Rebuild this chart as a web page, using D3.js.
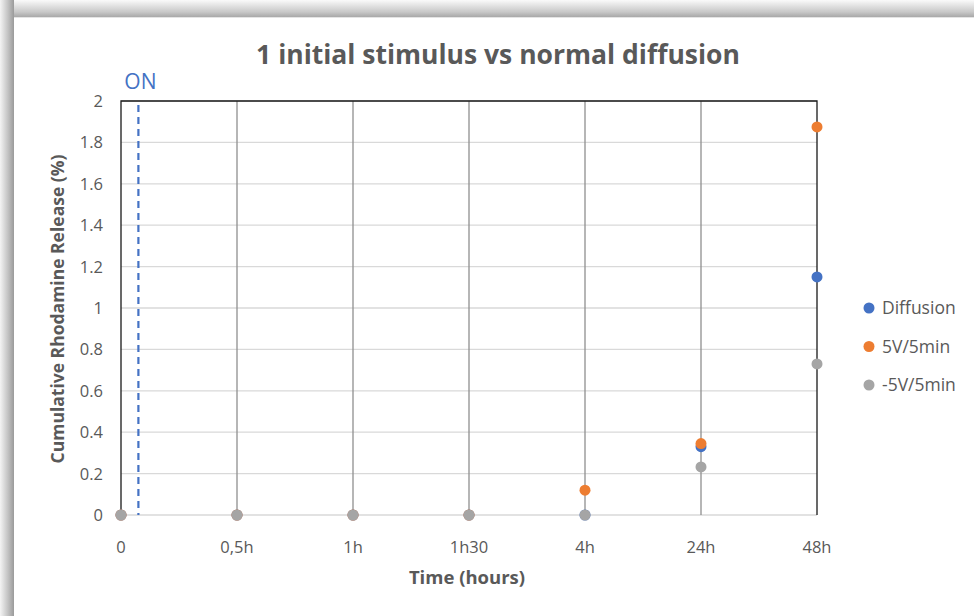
<!DOCTYPE html>
<html><head><meta charset="utf-8">
<script src="https://cdn.jsdelivr.net/npm/d3@7"></script>
<style>
html,body{margin:0;padding:0;background:#fff;}
svg{display:block;}
text{font-family:"Open Sans","Noto Sans",sans-serif;}
</style></head>
<body><svg id="c" width="974" height="616"></svg>
<script>
const categories = ["0","0,5h","1h","1h30","4h","24h","48h"];
const diffusion = [0,0,0,0,0,0.33,1.15];
const v5 = [0,0,0,0,0.12,0.345,1.875];
const vm5 = [0,0,0,0,0,0.232,0.73];
const seriesNames = ["Diffusion","5V/5min","-5V/5min"];
const seriesColors = ["#4472c4","#ed7d31","#a5a5a5"];
const yTicks = [0,0.2,0.4,0.6,0.8,1,1.2,1.4,1.6,1.8,2];
const onPosition = 0.15; // in category units

const svg = d3.select("#c");
const defs = svg.append("defs");
const gt = defs.append("linearGradient").attr("id","gt").attr("x1",0).attr("y1",0).attr("x2",0).attr("y2",1);
gt.append("stop").attr("offset","0%").attr("stop-color","#fafafa");
gt.append("stop").attr("offset","70%").attr("stop-color","#c8c8c8");
gt.append("stop").attr("offset","100%").attr("stop-color","#a8a8a8");
const gl = defs.append("linearGradient").attr("id","gl").attr("x1",0).attr("y1",0).attr("x2",1).attr("y2",0);
gl.append("stop").attr("offset","0%").attr("stop-color","#f4f4f4");
gl.append("stop").attr("offset","60%").attr("stop-color","#c0c0c0");
gl.append("stop").attr("offset","100%").attr("stop-color","#9a9a9a");
svg.append("rect").attr("x",0).attr("y",0).attr("width",974).attr("height",17).attr("fill","url(#gt)");
svg.append("rect").attr("x",0).attr("y",0).attr("width",14).attr("height",616).attr("fill","url(#gl)");
svg.append("rect").attr("x",14).attr("y",17).attr("width",960).attr("height",1).attr("fill","#e4e4e4");

const L=121,R=817,T=101,B=515;
const x = d3.scalePoint().domain(categories).range([L,R]).padding(0);
const xl = d3.scaleLinear().domain([0,categories.length-1]).range([L,R]);
const y = d3.scaleLinear().domain([0,2]).range([B,T]);

svg.append("g").selectAll("line").data(yTicks).join("line")
  .attr("x1",L).attr("x2",R).attr("y1",d=>y(d)).attr("y2",d=>y(d))
  .attr("stroke","#d9d9d9").attr("stroke-width",1.3);
svg.append("g").selectAll("line").data(categories.slice(1,-1)).join("line")
  .attr("x1",d=>x(d)).attr("x2",d=>x(d)).attr("y1",T).attr("y2",B)
  .attr("stroke","#8f8f8f").attr("stroke-width",1.3);
svg.append("path").attr("d",`M${L},${B}V${T}H${R}V${B}`).attr("fill","none").attr("stroke","#1a1a1a").attr("stroke-width",1.3);

svg.append("line").attr("x1",xl(onPosition)).attr("x2",xl(onPosition)).attr("y1",T+4).attr("y2",B)
  .attr("stroke","#4472c4").attr("stroke-width",2.2).attr("stroke-dasharray","7,5");
svg.append("text").attr("x",xl(onPosition)+2).attr("y",89).attr("text-anchor","middle")
  .attr("fill","#4472c4").attr("font-size",21).text("ON");

svg.append("g").selectAll("text").data(yTicks).join("text")
  .attr("x",103).attr("y",d=>y(d)+6).attr("text-anchor","end")
  .attr("fill","#595959").attr("font-size",16.5).text(d=>d3.format("")(d));
svg.append("g").selectAll("text").data(categories).join("text")
  .attr("x",d=>x(d)).attr("y",553).attr("text-anchor","middle")
  .attr("fill","#595959").attr("font-size",16.5).text(d=>d);

const series=[diffusion,v5,vm5];
series.forEach((s,i)=>{
  svg.append("g").selectAll("circle").data(s).join("circle")
    .attr("cx",(d,j)=>x(categories[j])).attr("cy",d=>y(d)).attr("r",5.5)
    .attr("fill",seriesColors[i]);
});

svg.append("text").attr("x",498).attr("y",64).attr("text-anchor","middle")
  .attr("fill","#595959").attr("font-size",26.5).attr("font-weight","bold")
  .text("1 initial stimulus vs normal diffusion");
svg.append("text").attr("x",467).attr("y",584).attr("text-anchor","middle")
  .attr("fill","#595959").attr("font-size",18.5).attr("font-weight","bold").text("Time (hours)");
svg.append("text").attr("transform","translate(64,309) rotate(-90)").attr("text-anchor","middle")
  .attr("fill","#595959").attr("font-size",17.5).attr("font-weight","bold").text("Cumulative Rhodamine Release (%)");

const lg = svg.append("g").selectAll("g").data(seriesNames).join("g")
  .attr("transform",(d,i)=>`translate(869,${308+i*38.5})`);
lg.append("circle").attr("r",5.5).attr("fill",(d,i)=>seriesColors[i]);
lg.append("text").attr("x",13).attr("y",6).attr("fill","#595959").attr("font-size",17.5).text(d=>d);
</script></body></html>
